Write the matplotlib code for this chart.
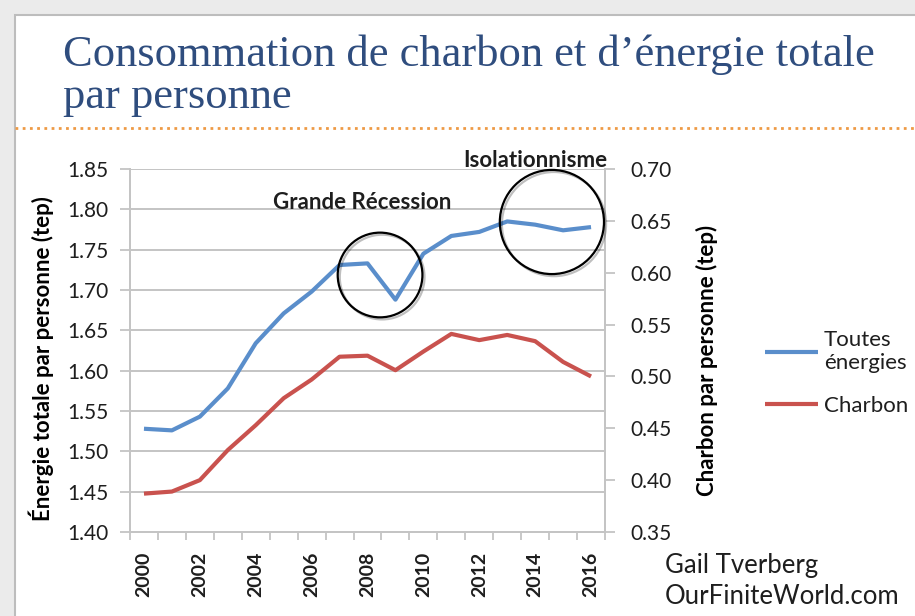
import matplotlib
matplotlib.use("Agg")
import matplotlib.pyplot as plt
from matplotlib.patches import Circle, Rectangle
from matplotlib.lines import Line2D
from matplotlib.transforms import Affine2D, ScaledTranslation
import matplotlib.patheffects as pe
from matplotlib.ticker import MultipleLocator, FixedLocator

# data
years = list(range(2000, 2017))
total_energy = [1.528, 1.526, 1.543, 1.578, 1.634, 1.671, 1.698, 1.731, 1.733,
                1.688, 1.745, 1.767, 1.772, 1.785, 1.781, 1.774, 1.778]
coal = [0.387, 0.389, 0.400, 0.429, 0.453, 0.479, 0.497, 0.519, 0.520,
        0.506, 0.524, 0.541, 0.535, 0.540, 0.534, 0.514, 0.500]
year_labels = [str(y) for y in range(2000, 2017, 2)]

# annotations: (text, text x, text y, circle x, circle y, radius in pt)
notes = [
    ("Grande Récession", 2007.8, 1.809, 2008.45, 1.7186, 30.5),
    ("Isolationnisme", 2014.0, 1.860, 2014.6, 1.7843, 37.5),
]

BLUE = "#5A8ECB"
RED = "#C9524E"
GRID = "#C4C4C4"
TXT = "#1E1E1E"
SANS = ["Lato", "DejaVu Sans"]

plt.rcParams["font.family"] = SANS

fig = plt.figure(figsize=(9.15, 6.16), dpi=100)
fig.patch.set_facecolor("#EBEBEB")
fig.patches.append(Rectangle((15 / 915, -0.01), 1.0, 1 - 15 / 616 + 0.01,
                             transform=fig.transFigure, facecolor="white",
                             edgecolor="#BDBDBD", lw=1.5, zorder=-5))

# title
title_kw = dict(family=["Liberation Serif", "DejaVu Serif"], color="#2F4D7E",
                fontsize=32, va="baseline", ha="left")
fig.text(63 / 915, 1 - 66 / 616, "Consommation de charbon et d\u2019énergie totale", **title_kw)
fig.text(63 / 915, 1 - 108 / 616, "par personne", **title_kw)
fig.add_artist(Line2D([15 / 915, 1.0], [1 - 128 / 616] * 2, transform=fig.transFigure,
                      color="#EE9A45", lw=2, linestyle=(0, (1, 1.6))))

ax = fig.add_axes([130 / 915, 84 / 616, 475 / 915, 363 / 616])
ax2 = ax.twinx()
ax.set_facecolor("none")
ax2.set_facecolor("none")

ax.plot(years, total_energy, color=BLUE, lw=3, solid_capstyle="butt",
        label="Toutes\nénergies", zorder=3)
ax2.plot(years, coal, color=RED, lw=3, solid_capstyle="butt", label="Charbon", zorder=3)

ax.set_xlim(1999.5, 2016.5)
ax.set_ylim(1.40, 1.85)
ax2.set_ylim(0.35, 0.70)
ax.yaxis.set_major_locator(MultipleLocator(0.05))
ax2.yaxis.set_major_locator(MultipleLocator(0.05))
ax.yaxis.set_major_formatter(lambda v, p: f"{v:.2f}")
ax2.yaxis.set_major_formatter(lambda v, p: f"{v:.2f}")

ax.set_xticks(range(2000, 2017, 2))
ax.set_xticklabels(year_labels, rotation=90, fontsize=14, fontweight="bold", color=TXT)
ax.xaxis.set_minor_locator(FixedLocator([y - 0.5 for y in years] + [2016.5]))
ax.tick_params(axis="x", which="major", length=0, pad=14)
ax.tick_params(axis="x", which="minor", length=6, color=GRID, width=1.3)

ax.grid(axis="y", color=GRID, lw=1.4)
ax.set_axisbelow(True)
ax.tick_params(axis="y", length=7, color=GRID, width=1.3, pad=8.5,
               labelsize=15, labelcolor=TXT)
ax2.tick_params(axis="y", length=7, color=GRID, width=1.3, pad=11,
                labelsize=15, labelcolor=TXT)

for a in (ax, ax2):
    a.spines["top"].set_visible(False)
    for s in ("left", "right", "bottom"):
        a.spines[s].set_color(GRID)
        a.spines[s].set_linewidth(1.4)

ax.set_ylabel("Énergie totale par personne (tep)", fontsize=16, fontweight="bold",
              color="black")
ax.yaxis.set_label_coords(-0.161, 0.479)
ax2.set_ylabel("Charbon par personne (tep)", fontsize=16, fontweight="bold",
               color="black", rotation=90)
ax2.yaxis.set_label_coords(1.192, 0.474)

# circled events
for text, tx, ty, cx, cy, r in notes:
    ax2.text(tx, ax2.transData.inverted().transform(ax.transData.transform((tx, ty)))[1],
             text, ha="center", va="center", fontsize=16,
             fontweight="bold", color=TXT, zorder=5, clip_on=False)
    trans = Affine2D().scale(fig.dpi / 72) + ScaledTranslation(cx, cy, ax.transData)
    circ = Circle((0, 0), r, transform=trans, fill=False, edgecolor="black", lw=1.6,
                  zorder=10, clip_on=False,
                  path_effects=[pe.SimpleLineShadow(offset=(1.5, -1.5), alpha=0.25),
                                pe.Normal()])
    fig.add_artist(circ)

h1, l1 = ax.get_legend_handles_labels()
h2, l2 = ax2.get_legend_handles_labels()
fig.legend(h1 + h2, l1 + l2, loc="center left", bbox_to_anchor=(745 / 915, 1 - 373 / 616),
           frameon=False, fontsize=16, handlelength=2.4, handletextpad=0.25,
           labelspacing=1.0, labelcolor=TXT)

fig.text(665 / 915, 1 - 566 / 616, "Gail Tverberg", fontsize=18.5, color=TXT,
         va="center", ha="left")
fig.text(665 / 915, 1 - 597 / 616, "OurFiniteWorld.com", fontsize=18.5, color=TXT,
         va="center", ha="left")

fig.savefig("out.png", dpi=100, facecolor=fig.get_facecolor())
